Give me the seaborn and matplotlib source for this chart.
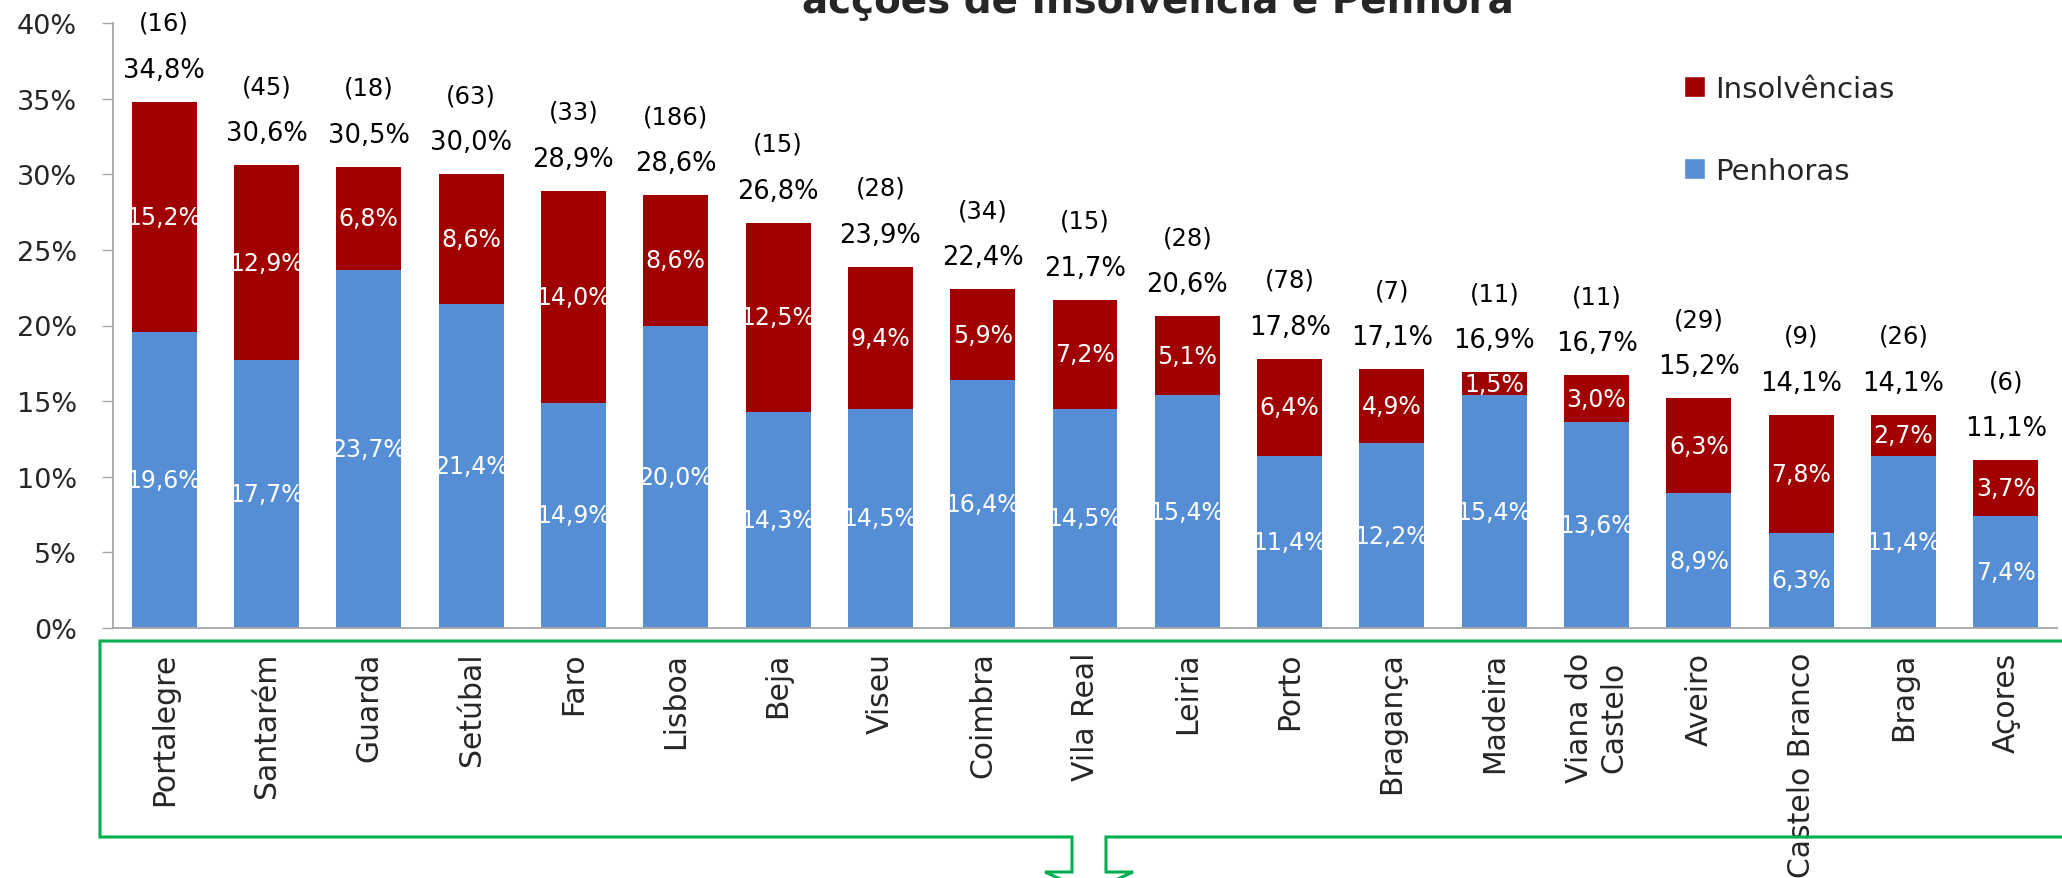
import numpy as np
import pandas as pd
import matplotlib
matplotlib.use("Agg")
import matplotlib.pyplot as plt
from matplotlib.patches import Patch
from matplotlib.lines import Line2D
import seaborn as sns

# ---------------- data ----------------
categories = ["Portalegre", "Santarém", "Guarda", "Setúbal", "Faro", "Lisboa", "Beja",
              "Viseu", "Coimbra", "Vila Real", "Leiria", "Porto", "Bragança", "Madeira",
              "Viana do\nCastelo", "Aveiro", "Castelo Branco", "Braga", "Açores"]
totals = [34.8, 30.6, 30.5, 30.0, 28.9, 28.6, 26.8, 23.9, 22.4, 21.7, 20.6, 17.8, 17.1,
          16.9, 16.7, 15.2, 14.1, 14.1, 11.1]
penhoras = [19.6, 17.7, 23.7, 21.4, 14.9, 20.0, 14.3, 14.5, 16.4, 14.5, 15.4, 11.4, 12.2,
            15.4, 13.6, 8.9, 6.3, 11.4, 7.4]
insolvencias = [15.2, 12.9, 6.8, 8.6, 14.0, 8.6, 12.5, 9.4, 5.9, 7.2, 5.1, 6.4, 4.9,
                1.5, 3.0, 6.3, 7.8, 2.7, 3.7]
counts = [16, 45, 18, 63, 33, 186, 15, 28, 34, 15, 28, 78, 7, 11, 11, 29, 9, 26, 6]
yticks = [0, 5, 10, 15, 20, 25, 30, 35, 40]
title = "acções de Insolvência e Penhora"
series_names = ["Insolvências", "Penhoras"]

RED = "#A00000"
BLUE = "#558ED5"
GRAY = "#A6A6A6"
GREEN = "#00B050"

sns.set_style("white")
plt.rcParams["font.family"] = ["DejaVu Sans"]

W, H = 2062, 879
fig = plt.figure(figsize=(W / 100, H / 100), dpi=100)
ax = fig.add_axes([113 / W, 1 - 629 / H, (2057 - 113) / W, (629 - 24) / H])

df = pd.DataFrame({"cat": categories, "total": totals, "pen": penhoras})
sns.barplot(data=df, x="cat", y="total", order=categories, color=RED, saturation=1,
            width=0.635, ax=ax, edgecolor="none")
sns.barplot(data=df, x="cat", y="pen", order=categories, color=BLUE, saturation=1,
            width=0.635, ax=ax, edgecolor="none")

ax.set_xlim(-0.5, len(categories) - 0.5)
ax.set_ylim(0, 40)
ax.set_xlabel("")
ax.set_ylabel("")
ax.set_yticks(yticks)
ax.set_yticklabels([f"{v}%" for v in yticks], fontsize=19.5)
ax.set_xticks(range(len(categories)))
ax.set_xticklabels(categories, rotation=90, fontsize=21.5, ha="center", va="top",
                   multialignment="center")
ax.set_xticks(np.arange(-0.5, len(categories), 1), minor=True)
ax.tick_params(axis="x", which="major", length=0, pad=17)
ax.tick_params(axis="x", which="minor", length=8.5, width=1, color=GRAY, direction="out")
ax.tick_params(axis="y", which="major", length=8, width=1, color=GRAY, direction="out",
               pad=18, left=True)

for s in ["top", "right"]:
    ax.spines[s].set_visible(False)
for s in ["left", "bottom"]:
    ax.spines[s].set_color(GRAY)
    ax.spines[s].set_linewidth(1.3)

def fmt(v):
    return f"{v:.1f}".replace(".", ",") + "%"

for i, (t, p, ins, c) in enumerate(zip(totals, penhoras, insolvencias, counts)):
    ax.annotate(fmt(t), (i, t), xytext=(0, 32), textcoords="offset pixels",
                ha="center", va="center", fontsize=18.5, color="black")
    ax.annotate(f"({c})", (i, t), xytext=(0, 79), textcoords="offset pixels",
                ha="center", va="center", fontsize=17.5, color="black",
                annotation_clip=False)
    ax.text(i, p / 2, fmt(p), ha="center", va="center", fontsize=17, color="white")
    ax.text(i, (p + t) / 2, fmt(ins), ha="center", va="center", fontsize=17, color="white")

# legend
handles = [Patch(facecolor=RED, label=series_names[0]),
           Patch(facecolor=BLUE, label=series_names[1])]
ax.legend(handles=handles, loc="upper left", bbox_to_anchor=(1684 / W, 1 - 76 / H),
          bbox_transform=fig.transFigure, frameon=False, fontsize=21,
          handlelength=0.72, handleheight=0.72, handletextpad=0.35,
          labelspacing=1.85, borderpad=0, borderaxespad=0)

# title (partially cut at the top, as in the reference)
fig.text(1158 / W, 1 - 13 / H, title, ha="center", va="baseline", fontsize=28,
         fontweight="bold")

# green bracket / arrow outline
px = [2080, 100, 100, 1072, 1072, 1045, 1089]
py = [642, 642, 838, 838, 873, 873, 893]
qx = [2080, 1106, 1106, 1133, 1089]
qy = [838, 838, 873, 873, 893]
for xs, ys in [(px, py), (qx, qy)]:
    fig.add_artist(Line2D([x / W for x in xs], [1 - y / H for y in ys],
                          transform=fig.transFigure, color=GREEN, linewidth=2.2,
                          solid_joinstyle="miter", clip_on=False))

fig.savefig("out.png", dpi=100)
